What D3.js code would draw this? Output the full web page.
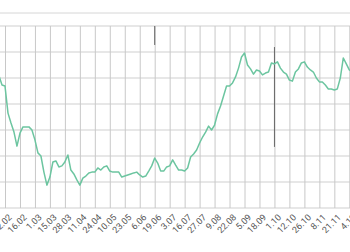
<!DOCTYPE html>
<html>
<head>
<meta charset="utf-8">
<script src="https://cdn.jsdelivr.net/npm/d3@7"></script>
<style>
  html, body { margin: 0; padding: 0; background: #fff; overflow: hidden; }
  svg { display: block; }
  .axis text { font-family: Roboto, sans-serif; font-size: 9px; fill: #555; }
</style>
</head>
<body>
<script>
'use strict';

// tick labels, one every 5 samples starting at sample 2
const tickLabels = [
  '2.02', '16.02', '1.03', '15.03', '28.03', '11.04', '24.04', '10.05',
  '23.05', '6.06', '19.06', '3.07', '16.07', '27.07', '9.08', '22.08',
  '5.09', '18.09', '1.10', '12.10', '26.10', '8.11', '21.11', '4.12'
];
const tickStart = 2;
const tickEvery = 5;

// series values
const values = [
  50.8, 47.3, 46.9, 36.5, 32.7, 29.2, 23.8, 28.8, 31.2, 31.2,
  31.2, 30.0, 26.2, 21.2, 20.0, 13.8, 8.8, 11.9, 17.7, 18.1,
  15.8, 16.2, 17.7, 20.4, 14.6, 13.1, 10.8, 8.8, 11.5, 12.3,
  13.5, 13.8, 13.8, 15.4, 14.6, 15.8, 16.2, 14.2, 13.8, 13.8,
  13.8, 11.9, 12.3, 12.7, 13.1, 13.5, 13.8, 12.7, 11.9, 12.3,
  14.2, 16.2, 19.2, 17.3, 14.2, 14.2, 15.8, 16.2, 18.5, 16.5,
  14.6, 14.6, 14.2, 15.4, 19.6, 20.8, 22.3, 25.0, 27.3, 29.2,
  31.5, 30.0, 31.9, 36.2, 39.2, 43.1, 46.9, 46.9, 48.1, 50.4,
  53.8, 58.1, 59.6, 55.0, 53.5, 51.5, 53.1, 52.7, 51.2, 51.9,
  52.3, 55.8, 55.4, 56.2, 53.8, 52.3, 51.5, 49.2, 48.8, 52.3,
  53.5, 55.8, 56.2, 54.2, 53.1, 52.3, 50.0, 48.5, 48.5, 47.3,
  45.8, 45.8, 45.4, 45.8, 50.0, 57.7, 55.4, 53.1, 52.3
];

// y gridline values
const yTicks = [0, 10, 20, 30, 40, 50, 60, 70];

// dark vertical markers: [sample index, from value, to value]
const markerIdx = [52, 92];
const markerFrom = [62.7, 23.5];
const markerTo = [70, 61.9];

const width = 350;
const height = 252;

const svg = d3.select('body')
  .append('svg')
  .attr('width', width)
  .attr('height', height);

const lastTick = tickStart + tickEvery * (tickLabels.length - 1);
const xScale = d3.scaleLinear()
  .domain([tickStart, lastTick])
  .range([5, 349.3]);

const yScale = d3.scaleLinear()
  .domain([0, 70])
  .range([208, 26]);

// thin line above the plot
svg.append('line')
  .attr('x1', 0)
  .attr('x2', width)
  .attr('y1', yScale(75))
  .attr('y2', yScale(75))
  .attr('stroke', '#d6d6d6')
  .attr('stroke-width', 1);

// horizontal grid
svg.append('g')
  .selectAll('line')
  .data(yTicks)
  .enter()
  .append('line')
  .attr('x1', 0)
  .attr('x2', width)
  .attr('y1', d => yScale(d))
  .attr('y2', d => yScale(d))
  .attr('stroke', '#cfcfcf')
  .attr('stroke-width', 1);

// x axis with vertical gridlines
const tickValues = tickLabels.map((d, i) => tickStart + i * tickEvery);
const xAxis = d3.axisBottom(xScale)
  .tickValues(tickValues)
  .tickFormat((d, i) => tickLabels[i])
  .tickSizeInner(-(yScale(0) - yScale(70)))
  .tickSizeOuter(0)
  .tickPadding(0);

const axisG = svg.append('g')
  .attr('class', 'axis')
  .attr('transform', 'translate(0,' + yScale(0) + ')')
  .call(xAxis);

axisG.select('.domain').remove();
axisG.selectAll('.tick line')
  .attr('stroke', '#c8c8c8');
axisG.selectAll('.tick text')
  .attr('x', 0)
  .attr('y', 0)
  .attr('dy', '0.6em')
  .attr('text-anchor', 'end')
  .attr('transform', 'translate(3,6) rotate(-45)');

// dark markers
svg.append('g')
  .selectAll('line')
  .data(markerIdx)
  .enter()
  .append('line')
  .attr('x1', d => xScale(d))
  .attr('x2', d => xScale(d))
  .attr('y1', (d, i) => yScale(markerTo[i]))
  .attr('y2', (d, i) => yScale(markerFrom[i]))
  .attr('stroke', '#666')
  .attr('stroke-width', 1);

// series line
const line = d3.line()
  .x((d, i) => xScale(i))
  .y(d => yScale(d));

svg.append('path')
  .datum(values)
  .attr('fill', 'none')
  .attr('stroke', '#6cc5a0')
  .attr('stroke-width', 1.5)
  .attr('stroke-linejoin', 'round')
  .attr('d', line);
</script>
</body>
</html>
